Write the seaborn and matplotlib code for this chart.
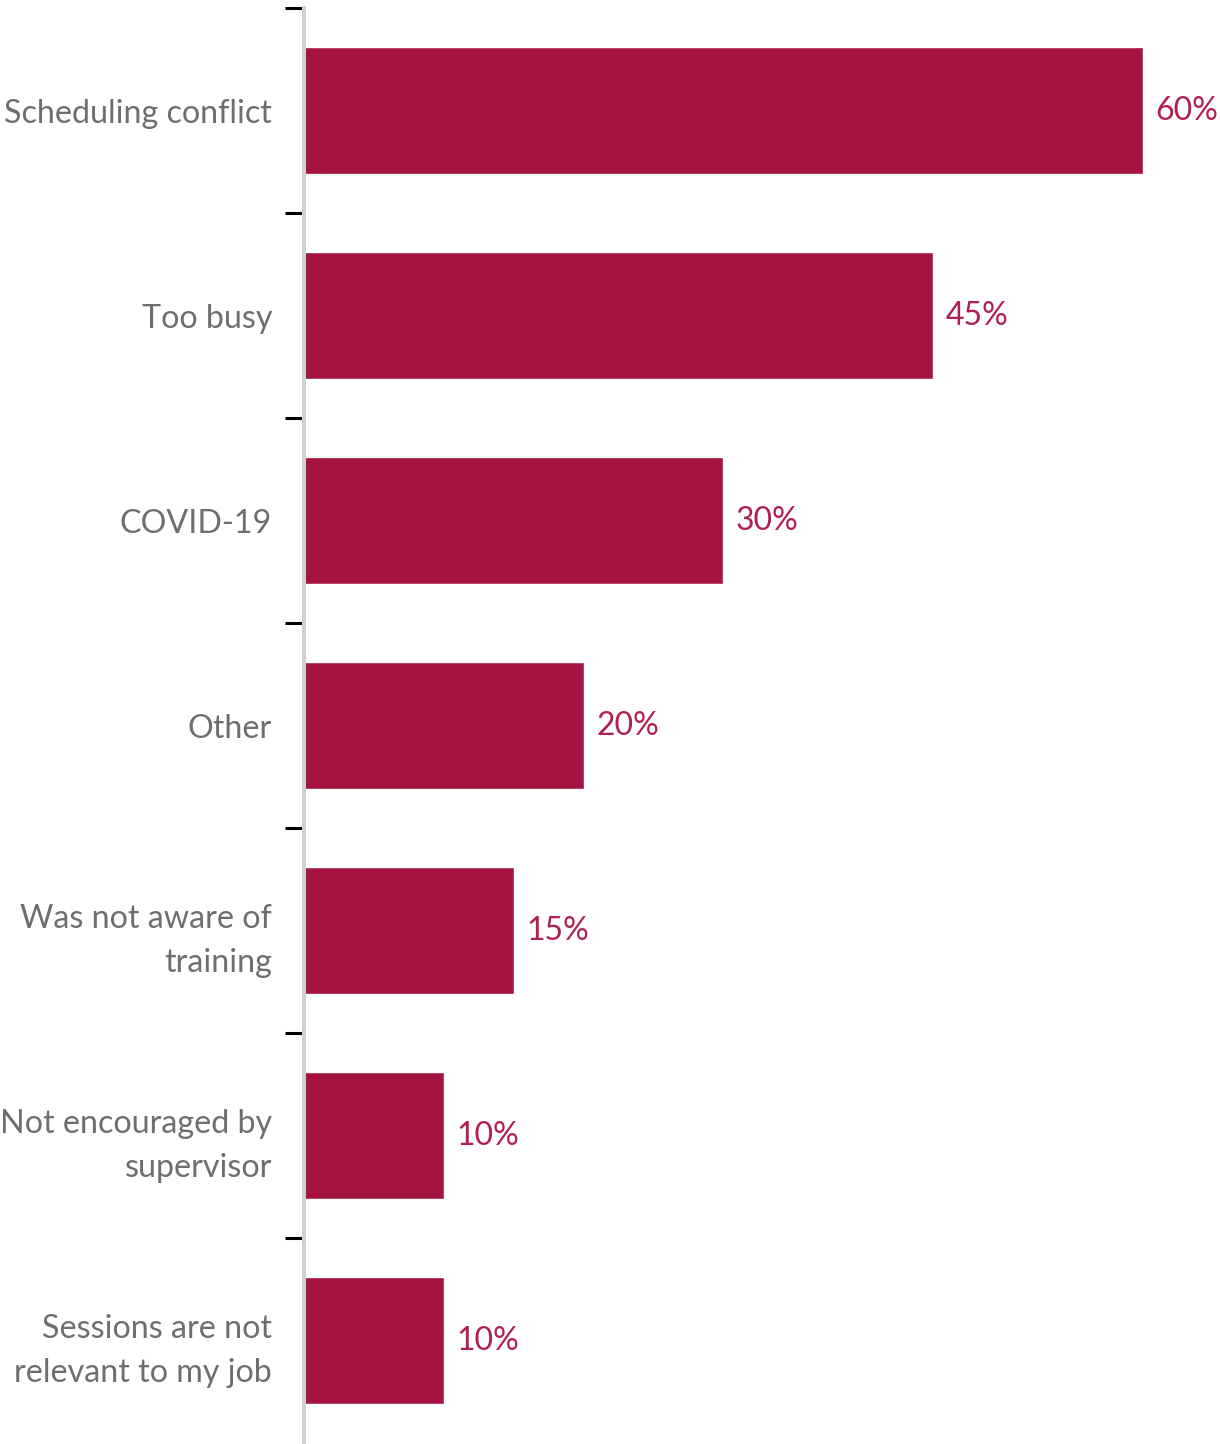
import matplotlib
matplotlib.use("Agg")
import matplotlib.pyplot as plt
import seaborn as sns
import pandas as pd
from matplotlib.ticker import FixedLocator

categories = ["Scheduling conflict", "Too busy", "COVID-19", "Other",
              "Was not aware of\ntraining", "Not encouraged by\nsupervisor",
              "Sessions are not\nrelevant to my job"]
values = [60, 45, 30, 20, 15, 10, 10]
value_labels = ["60%", "45%", "30%", "20%", "15%", "10%", "10%"]

BAR = "#A51441"
sns.set_theme(style="white")
plt.rcParams['font.family'] = ['Lato', 'DejaVu Sans']

df = pd.DataFrame({"cat": categories, "val": values})

fig = plt.figure(figsize=(12.2, 14.44), dpi=100)
ax = fig.add_axes([304/1220, 1 - 1443/1444, (1220 - 304)/1220, (1443 - 8)/1444])

sns.barplot(data=df, x="val", y="cat", orient="h", color=BAR,
            saturation=1, width=0.615, ax=ax)

ax.set_xlim(0, 916/13.98)
ax.set_ylim(6.5, -0.5)
ax.set_xlabel("")
ax.set_ylabel("")
ax.set_xticks([])

for s in ["top", "right", "bottom"]:
    ax.spines[s].set_visible(False)
ax.spines["left"].set_color("#d0d0d0")
ax.spines["left"].set_linewidth(2.9)
ax.spines["left"].set_zorder(5)

ax.tick_params(axis="y", which="major", length=0, pad=23,
               labelsize=23.2, labelcolor="#6e6e6e")
ax.yaxis.set_minor_locator(FixedLocator([i - 0.5 for i in range(7)]))
ax.tick_params(axis="y", which="minor", length=13.5, width=2.2,
               color="black", left=True)
for lbl in ax.get_yticklabels():
    lbl.set_horizontalalignment("right")
    lbl.set_linespacing(1.6)

for i, (v, t) in enumerate(zip(values, value_labels)):
    ax.annotate(t, xy=(v, i), xytext=(9, 0), textcoords="offset points",
                va="center", ha="left", fontsize=23, color="#B0204E")

fig.savefig("out.png", dpi=100)
